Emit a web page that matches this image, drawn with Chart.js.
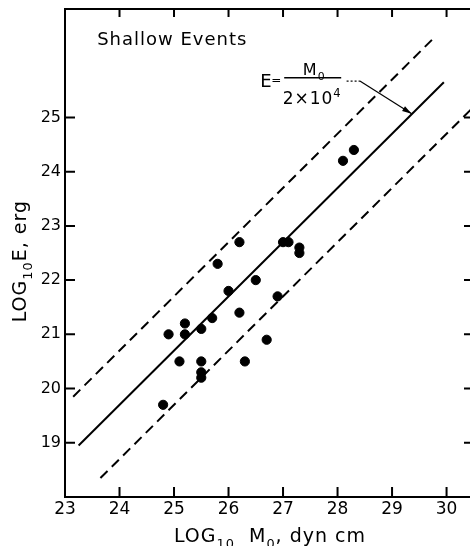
<!DOCTYPE html>
<html>
<head>
<meta charset="utf-8">
<script src="https://cdn.jsdelivr.net/npm/chart.js@4.4.0/dist/chart.umd.min.js"></script>
<style>
    html, body { margin: 0; padding: 0; background: #fff; }
</style>
</head>
<body>
<canvas id="chart-canvas" width="470" height="546"></canvas>
<script>
// log10 M0 / log10 E of the shallow events
const EVENT_M0 = [28.1, 28.3, 26.2, 25.8, 27.0, 27.1, 27.3, 27.3, 26.5, 26.0, 26.9, 26.2,
                  25.7, 25.2, 25.5, 24.9, 25.2, 26.7, 25.1, 25.5, 26.3, 25.5, 25.5, 24.8];
const EVENT_E  = [24.2, 24.4, 22.7, 22.3, 22.7, 22.7, 22.6, 22.5, 22.0, 21.8, 21.7, 21.4,
                  21.3, 21.2, 21.1, 21.0, 21.0, 20.9, 20.5, 20.5, 20.5, 20.3, 20.2, 19.7];

// E = M0 / 2x10^4 and the two dashed bounds (end points)
const FIT_X   = [23.25, 29.95];
const FIT_Y   = [18.95, 25.65];
const UPPER_X = [23.15, 29.75];
const UPPER_Y = [19.85, 26.45];
const LOWER_X = [23.65, 30.45];
const LOWER_Y = [18.35, 25.15];

const X_TICKS = [23, 24, 25, 26, 27, 28, 29, 30];
const Y_TICKS = [19, 20, 21, 22, 23, 24, 25];

const FONT = "'DejaVu Sans', sans-serif";

function pairs(xs, ys) {
    return xs.map((x, i) => ({x: x, y: ys[i]}));
}

// draws text made of normal / subscript / superscript pieces
function richText(ctx, parts, x, y, size, align) {
    let total = 0;
    parts.forEach(p => {
        ctx.font = `${p.s ? size * 0.68 : size}px ${FONT}`;
        p.w = ctx.measureText(p.t).width;
        total += p.w;
    });
    let cx = align === "center" ? x - total / 2 : x;
    parts.forEach(p => {
        ctx.font = `${p.s ? size * 0.68 : size}px ${FONT}`;
        let dy = 0;
        if (p.s === "sub") dy = size * 0.3;
        if (p.s === "sup") dy = -size * 0.4;
        ctx.fillText(p.t, cx, y + dy);
        cx += p.w;
    });
}

function noPadding(s) {
    s.paddingLeft = 0;
    s.paddingRight = 0;
    s.paddingTop = 0;
    s.paddingBottom = 0;
}

const framePlugin = {
    id: "frame",
    afterDraw(chart) {
        const ctx = chart.ctx;
        const a = chart.chartArea;
        const xs = chart.scales.x;
        const ys = chart.scales.y;
        ctx.save();
        ctx.strokeStyle = "#000";
        ctx.fillStyle = "#000";
        ctx.lineWidth = 2;

        // frame
        ctx.strokeRect(a.left, a.top, a.right - a.left + 2, a.bottom - a.top);

        // inward ticks
        ctx.beginPath();
        X_TICKS.slice(1).forEach(v => {
            const px = xs.getPixelForValue(v);
            ctx.moveTo(px, a.bottom); ctx.lineTo(px, a.bottom - 10);
            ctx.moveTo(px, a.top);    ctx.lineTo(px, a.top + 8);
        });
        Y_TICKS.forEach(v => {
            const py = ys.getPixelForValue(v);
            ctx.moveTo(a.left, py);  ctx.lineTo(a.left + 10, py);
            ctx.moveTo(a.right, py); ctx.lineTo(a.right - 6, py);
        });
        ctx.stroke();

        ctx.textBaseline = "alphabetic";
        ctx.textAlign = "left";
        ctx.letterSpacing = "1px";

        // axis titles
        richText(ctx, [{t: "LOG"}, {t: "10", s: "sub"}, {t: "  M"}, {t: "0", s: "sub"}, {t: ", dyn cm"}],
            xs.getPixelForValue(26.76), 542, 19, "center");

        ctx.save();
        ctx.translate(26, ys.getPixelForValue(22.35));
        ctx.rotate(-Math.PI / 2);
        richText(ctx, [{t: "LOG"}, {t: "10", s: "sub"}, {t: "E, erg"}], 0, 0, 19, "center");
        ctx.restore();

        // panel label
        ctx.font = `18px ${FONT}`;
        ctx.textBaseline = "middle";
        ctx.fillText("Shallow Events", xs.getPixelForValue(23.59), ys.getPixelForValue(26.42));

        // formula annotation
        const bx = xs.getPixelForValue(27.535);
        const by = ys.getPixelForValue(25.73);
        ctx.textBaseline = "alphabetic";
        ctx.letterSpacing = "0px";
        ctx.font = `18px ${FONT}`;
        ctx.fillText("E", bx - 52, by + 9);
        ctx.font = `12px ${FONT}`;
        ctx.fillText("=", bx - 41, by + 6);
        ctx.letterSpacing = "1px";
        ctx.lineWidth = 1.5;
        ctx.beginPath();
        ctx.moveTo(bx - 28, by); ctx.lineTo(bx + 29, by);
        ctx.stroke();
        richText(ctx, [{t: "M"}, {t: "0", s: "sub"}], bx + 2, by - 3, 16, "center");
        richText(ctx, [{t: "2×10"}, {t: "4", s: "sup"}], bx, by + 26, 17, "center");

        // leader with arrow
        const l0x = xs.getPixelForValue(28.166), l1x = xs.getPixelForValue(28.41);
        const ly = ys.getPixelForValue(25.67);
        const tx = xs.getPixelForValue(29.36), ty = ys.getPixelForValue(25.07);
        ctx.lineWidth = 1.2;
        ctx.setLineDash([2, 2]);
        ctx.beginPath();
        ctx.moveTo(l0x, ly); ctx.lineTo(l1x, ly);
        ctx.stroke();
        ctx.setLineDash([]);
        ctx.beginPath();
        ctx.moveTo(l1x, ly); ctx.lineTo(tx, ty);
        ctx.stroke();
        const ang = Math.atan2(ty - ly, tx - l1x);
        ctx.beginPath();
        ctx.moveTo(tx, ty);
        ctx.lineTo(tx - 10 * Math.cos(ang - 0.28), ty - 10 * Math.sin(ang - 0.28));
        ctx.lineTo(tx - 10 * Math.cos(ang + 0.28), ty - 10 * Math.sin(ang + 0.28));
        ctx.closePath();
        ctx.fill();

        ctx.restore();
    }
};

const context = document.getElementById("chart-canvas").getContext("2d");

const chart = new Chart(context, {
    type: "scatter",
    data: {
        datasets: [{
            label: "events",
            data: pairs(EVENT_M0, EVENT_E),
            backgroundColor: "#000",
            borderColor: "#000",
            pointRadius: 4.6,
            pointHoverRadius: 4.6
        }, {
            label: "fit",
            data: pairs(FIT_X, FIT_Y),
            showLine: true,
            borderColor: "#000",
            borderWidth: 2,
            pointRadius: 0
        }, {
            label: "upper",
            data: pairs(UPPER_X, UPPER_Y),
            showLine: true,
            borderColor: "#000",
            borderWidth: 2,
            borderDash: [10, 6],
            pointRadius: 0
        }, {
            label: "lower",
            data: pairs(LOWER_X, LOWER_Y),
            showLine: true,
            borderColor: "#000",
            borderWidth: 2,
            borderDash: [10, 6],
            pointRadius: 0
        }]
    },
    options: {
        responsive: false,
        animation: false,
        events: [],
        layout: {autoPadding: false, padding: {top: 9, right: 0, left: 0, bottom: 0}},
        plugins: {
            legend: {display: false},
            tooltip: {enabled: false}
        },
        scales: {
            x: {
                type: "linear",
                min: 23,
                max: 30.43,
                afterFit: s => { s.height = 49; noPadding(s); },
                grid: {display: false, drawTicks: false},
                border: {display: false},
                ticks: {
                    stepSize: 1,
                    includeBounds: false,
                    padding: 2,
                    color: "#000",
                    font: {family: FONT, size: 17},
                    callback: v => X_TICKS.includes(v) ? String(v) : ""
                }
            },
            y: {
                type: "linear",
                min: 18,
                max: 27,
                afterFit: s => { s.width = 65; noPadding(s); },
                grid: {display: false, drawTicks: false},
                border: {display: false},
                ticks: {
                    stepSize: 1,
                    padding: 4,
                    color: "#000",
                    font: {family: FONT, size: 16},
                    callback: v => Y_TICKS.includes(v) ? String(v) : ""
                }
            }
        }
    },
    plugins: [framePlugin]
});
</script>
</body>
</html>
